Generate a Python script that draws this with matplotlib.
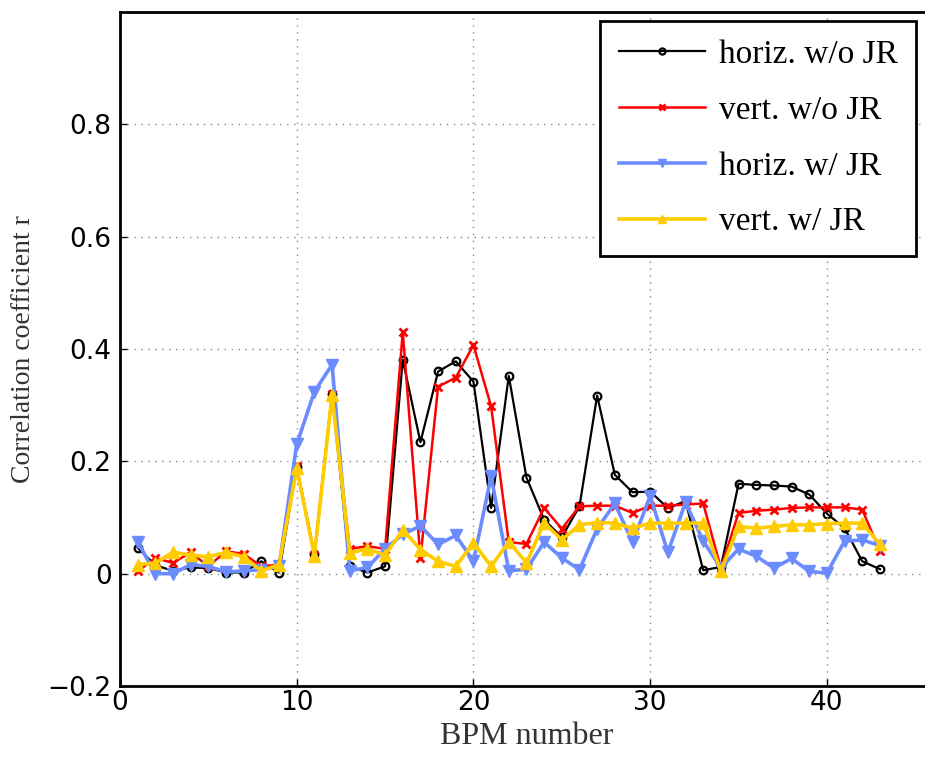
import matplotlib
matplotlib.use("Agg")
import matplotlib.pyplot as plt
import numpy as np

# BPM index 1..43
bpm = np.arange(1, 44)

# correlation coefficients
horiz_wo_jr = [0.046, 0.015, 0.005, 0.011, 0.010, 0.002, 0.002, 0.022, 0.002, 0.190,
               0.035, 0.320, 0.013, 0.002, 0.013, 0.381, 0.234, 0.360, 0.378, 0.342,
               0.117, 0.352, 0.171, 0.096, 0.065, 0.120, 0.317, 0.176, 0.145, 0.146,
               0.117, 0.129, 0.006, 0.012, 0.160, 0.158, 0.157, 0.155, 0.141, 0.107,
               0.081, 0.022, 0.008]
vert_wo_jr = [0.004, 0.028, 0.019, 0.038, 0.013, 0.040, 0.035, 0.013, 0.016, 0.191,
              0.033, 0.320, 0.044, 0.049, 0.044, 0.430, 0.027, 0.333, 0.349, 0.407,
              0.298, 0.056, 0.053, 0.117, 0.080, 0.120, 0.121, 0.121, 0.108, 0.121,
              0.121, 0.123, 0.125, 0.010, 0.108, 0.112, 0.114, 0.117, 0.118, 0.118,
              0.118, 0.114, 0.040]
horiz_w_jr = [0.057, 0.000, 0.000, 0.016, 0.013, 0.003, 0.005, 0.007, 0.013, 0.230,
              0.324, 0.372, 0.005, 0.011, 0.044, 0.070, 0.085, 0.052, 0.068, 0.022,
              0.173, 0.005, 0.008, 0.056, 0.028, 0.007, 0.080, 0.125, 0.056, 0.138,
              0.038, 0.127, 0.058, 0.010, 0.044, 0.031, 0.010, 0.027, 0.004, 0.001,
              0.058, 0.060, 0.050]
vert_w_jr = [0.016, 0.019, 0.038, 0.033, 0.030, 0.038, 0.030, 0.005, 0.016, 0.188,
             0.032, 0.318, 0.037, 0.044, 0.033, 0.078, 0.043, 0.022, 0.013, 0.055,
             0.013, 0.057, 0.019, 0.091, 0.060, 0.087, 0.091, 0.090, 0.081, 0.090,
             0.090, 0.090, 0.090, 0.005, 0.084, 0.081, 0.084, 0.087, 0.087, 0.089,
             0.090, 0.090, 0.052]

labels = ["horiz. w/o JR", "vert. w/o JR", "horiz. w/ JR", "vert. w/ JR"]

fig = plt.figure(figsize=(9.25, 7.59), dpi=100)
ax = fig.add_axes([0.1297, 0.0962, 0.8789, 0.888])

ax.plot(bpm, horiz_wo_jr, color="black", lw=1.6, marker="o", ms=5.5,
        mfc="none", mew=1.6, label=labels[0])
ax.plot(bpm, vert_wo_jr, color="#ff0000", lw=1.8, marker="x", ms=6,
        mew=2, label=labels[1])
ax.plot(bpm, horiz_w_jr, color="#6b8cff", lw=2.6, marker="v", ms=8,
        label=labels[2])
ax.plot(bpm, vert_w_jr, color="#ffcc00", lw=2.6, marker="^", ms=8,
        label=labels[3])

ax.set_xlim(0, 46)
ax.set_ylim(-0.2, 1.0)
ax.set_xticks([0, 10, 20, 30, 40])
ax.set_yticks([-0.2, 0, 0.2, 0.4, 0.6, 0.8])
ax.set_yticklabels(["\u22120.2", "0", "0.2", "0.4", "0.6", "0.8"])
ax.grid(True, ls=(0, (1, 4)), color="#888888", lw=1)
ax.tick_params(direction="in", length=5, width=1, labelsize=19,
               top=False, right=False)
ax.tick_params(axis="y", pad=6)
ax.tick_params(axis="x", pad=3)
for s in ax.spines.values():
    s.set_linewidth(2)

ax.set_xlabel("BPM number", family="Liberation Serif", fontsize=23,
              color="#333333", labelpad=4)
ax.set_ylabel("Correlation coefficient r", family="Liberation Serif",
              fontsize=20, color="#333333", labelpad=8)

leg = ax.legend(loc="upper right", bbox_to_anchor=(0.979, 0.9866),
                borderaxespad=0,
                prop={"family": "Liberation Serif", "size": 24},
                fancybox=False, framealpha=1, edgecolor="black",
                handlelength=2.6, labelspacing=0.76, borderpad=0.55,
                handletextpad=0.4, markerscale=0.8)
leg.get_frame().set_linewidth(2)

fig.savefig("out.png", dpi=100)
